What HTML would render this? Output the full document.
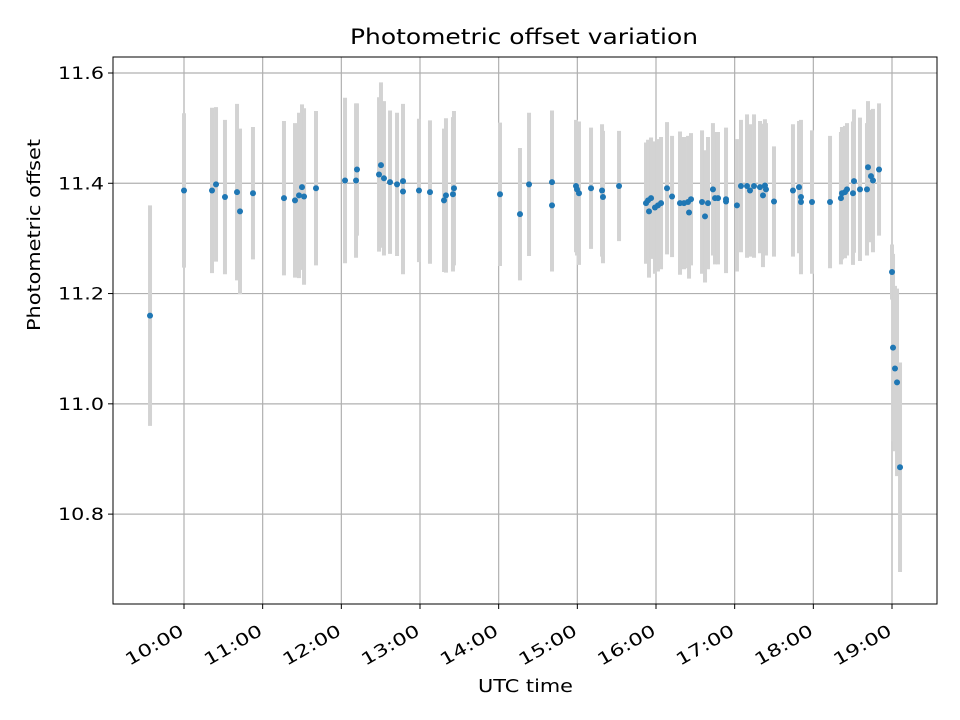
<!DOCTYPE html>
<html><head><meta charset="utf-8"><style>
body{margin:0;background:#fff;}
svg{display:block;font-family:"DejaVu Sans","Liberation Sans",sans-serif;}
</style></head><body>
<svg id="chart" width="960" height="720"></svg>
<script>
const times=[9.568,10.0,10.356,10.407,10.521,10.674,10.712,10.877,11.271,11.411,11.462,11.5,11.526,11.678,12.047,12.187,12.199,12.479,12.504,12.542,12.619,12.708,12.784,12.784,12.987,13.127,13.305,13.33,13.419,13.432,14.017,14.271,14.386,14.678,14.678,14.983,14.996,15.021,15.174,15.314,15.326,15.53,15.873,15.899,15.911,15.937,15.987,16.025,16.064,16.14,16.204,16.305,16.356,16.407,16.42,16.445,16.585,16.623,16.661,16.724,16.75,16.788,16.89,16.89,17.029,17.08,17.157,17.195,17.246,17.322,17.36,17.385,17.398,17.5,17.741,17.818,17.843,17.843,17.983,18.212,18.351,18.364,18.402,18.428,18.504,18.517,18.593,18.682,18.695,18.733,18.758,18.835,19.0,19.013,19.038,19.064,19.102];
const values=[11.16,11.387,11.387,11.398,11.375,11.384,11.349,11.382,11.373,11.369,11.378,11.393,11.376,11.391,11.405,11.405,11.425,11.416,11.433,11.409,11.402,11.398,11.404,11.385,11.387,11.384,11.369,11.378,11.38,11.391,11.38,11.344,11.398,11.402,11.36,11.395,11.389,11.382,11.391,11.387,11.375,11.395,11.364,11.369,11.349,11.373,11.356,11.36,11.364,11.391,11.376,11.364,11.364,11.366,11.347,11.371,11.366,11.34,11.364,11.389,11.373,11.373,11.367,11.371,11.36,11.395,11.395,11.387,11.395,11.393,11.378,11.396,11.389,11.367,11.387,11.393,11.375,11.366,11.366,11.366,11.373,11.382,11.384,11.389,11.382,11.404,11.389,11.389,11.429,11.413,11.405,11.425,11.239,11.102,11.064,11.039,10.885];
const errors=[0.2,0.14,0.15,0.14,0.14,0.16,0.15,0.12,0.14,0.14,0.15,0.15,0.16,0.14,0.15,0.14,0.12,0.14,0.15,0.14,0.13,0.13,0.14,0.15,0.13,0.13,0.13,0.14,0.14,0.14,0.13,0.12,0.13,0.13,0.12,0.12,0.12,0.13,0.11,0.12,0.12,0.1,0.11,0.11,0.12,0.11,0.12,0.12,0.12,0.12,0.11,0.13,0.12,0.12,0.12,0.12,0.13,0.12,0.12,0.12,0.12,0.12,0.13,0.13,0.12,0.12,0.13,0.12,0.13,0.12,0.13,0.12,0.12,0.1,0.12,0.12,0.14,0.13,0.13,0.12,0.12,0.12,0.12,0.12,0.13,0.13,0.13,0.12,0.12,0.12,0.13,0.12,0.05,0.17,0.15,0.17,0.19];
const yTicks=[10.8,11.0,11.2,11.4,11.6];
const xTicks=[10,11,12,13,14,15,16,17,18,19];
const xTickLabels=["10:00","11:00","12:00","13:00","14:00","15:00","16:00","17:00","18:00","19:00"];

const L=113,R=937,T=57,B=604;
const xMin=9.0975,xMax=19.572,yMin=10.637,yMax=11.629;
const xs=v=>L+(v-xMin)/(xMax-xMin)*(R-L);
const ys=v=>B-(v-yMin)/(yMax-yMin)*(B-T);
const svg=document.getElementById('chart');
const NS='http://www.w3.org/2000/svg';
function mk(tag,attrs,parent){const e=document.createElementNS(NS,tag);for(const k in attrs)e.setAttribute(k,attrs[k]);(parent||svg).appendChild(e);return e;}

const grid=mk('g',{});


yTicks.forEach(t=>{const y=ys(t);
 const g=mk('line',{x1:L,x2:R,y1:y,y2:y,stroke:'#b0b0b0','stroke-width':1.2},grid);
 
 
 const tk=mk('line',{x1:L-5,x2:L,y1:y,y2:y,stroke:'#000','stroke-width':1});
 
 
 const tx=mk('text',{x:L-46-9,y:y+6,'font-size':17,fill:'#000',textLength:46,lengthAdjust:'spacingAndGlyphs'});
 tx.textContent=t.toFixed(1);
 
 
});
xTicks.forEach((t,i)=>{const x=xs(t);
 const g=mk('line',{x1:x,x2:x,y1:T,y2:B,stroke:'#b0b0b0','stroke-width':1.2},grid);
 
 
 const tk=mk('line',{x1:x,x2:x,y1:B,y2:B+5,stroke:'#000','stroke-width':1});
 
 
 const ax=x+1,ay=B+30;
 const tx=mk('text',{x:ax-64,y:ay,'font-size':17,fill:'#000',textLength:64,lengthAdjust:'spacingAndGlyphs',transform:`rotate(-30 ${ax} ${ay})`});
 tx.textContent=xTickLabels[i];
 
 
});
times.forEach((t,i)=>{
 const eb=mk('line',{x1:xs(t),x2:xs(t),y1:ys(values[i]+errors[i]),y2:ys(values[i]-errors[i]),stroke:'#d3d3d3','stroke-width':4});
 
 
});
times.forEach((t,i)=>{
 const p=mk('circle',{cx:xs(t),cy:ys(values[i]),r:3,fill:'#1f77b4'});
 
 
});
const frame=mk('rect',{x:L,y:T,width:R-L,height:B-T,fill:'none',stroke:'#000','stroke-width':1});


const title=mk('text',{x:350,y:44,'font-size':21,fill:'#000',textLength:348,lengthAdjust:'spacingAndGlyphs'});
title.textContent='Photometric offset variation';


const xl=mk('text',{x:478,y:692,'font-size':18,fill:'#000',textLength:95,lengthAdjust:'spacingAndGlyphs'});
xl.textContent='UTC time';


const yc=331;
const yl=mk('text',{x:40-96,y:yc,'font-size':18,fill:'#000',textLength:192,lengthAdjust:'spacingAndGlyphs',transform:`rotate(-90 40 ${yc}) translate(96 0)`});
yl.setAttribute('x',40-96);
yl.textContent='Photometric offset';


</script>
</body></html>
